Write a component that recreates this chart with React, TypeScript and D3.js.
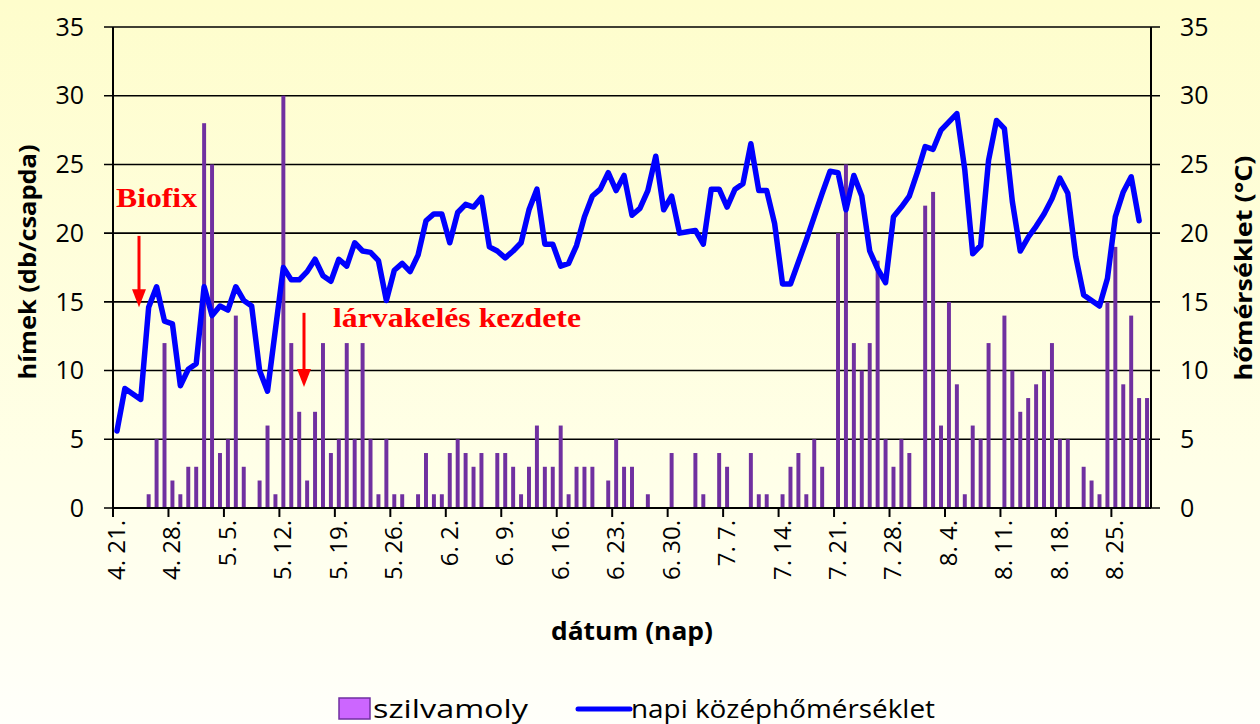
import React from "react"
import * as d3 from "d3"

// napi fogás (db/csapda), 4.21. – 8.29.
const moths = [
  0, 0, 0, 0, 1, 5, 12, 2, 1, 3, 3, 28, 25, 4, 5, 14, 3, 0, 2, 6, 1, 30, 12, 7, 2, 7, 12, 4, 5, 12,
  5, 12, 5, 1, 5, 1, 1, 0, 1, 4, 1, 1, 4, 5, 4, 3, 4, 0, 4, 4, 3, 1, 3, 6, 3, 3, 6, 1, 3, 3,
  3, 0, 2, 5, 3, 3, 0, 1, 0, 0, 4, 0, 0, 4, 1, 0, 4, 3, 0, 0, 4, 1, 1, 0, 1, 3, 4, 1, 5, 3,
  0, 20, 25, 12, 10, 12, 18, 5, 3, 5, 4, 0, 22, 23, 6, 15, 9, 1, 6, 5, 12, 0, 14, 10, 7, 8, 9, 10, 12, 5,
  5, 0, 3, 2, 1, 15, 19, 9, 14, 8, 8,
]

// napi középhőmérséklet (°C)
const temps: (number | null)[] = [
  5.6, 8.7, 8.3, 7.9, 14.6, 16.1, 13.6, 13.4, 8.9, 10.1, 10.5, 16.1, 14.0, 14.7, 14.4, 16.1, 15.1, 14.7, 10.0, 8.5,
  13.0, 17.5, 16.6, 16.6, 17.2, 18.1, 16.9, 16.5, 18.1, 17.6, 19.3, 18.7, 18.6, 18.0, 15.1, 17.3, 17.8, 17.2, 18.4, 20.9,
  21.4, 21.4, 19.3, 21.5, 22.1, 21.9, 22.6, 19.0, 18.7, 18.2, 18.7, 19.3, 21.7, 23.2, 19.2, 19.2, 17.6, 17.8, 19.1, 21.2,
  22.7, 23.2, 24.4, 23.1, 24.2, 21.3, 21.8, 23.1, 25.6, 21.7, 22.7, 20.0, 20.1, 20.2, 19.2, 23.2, 23.2, 21.9, 23.2, 23.6,
  26.5, 23.1, 23.1, 20.7, 16.3, 16.3, 17.9, 19.5, 21.2, 22.9, 24.5, 24.4, 21.7, 24.2, 22.7, 18.7, 17.4, 16.4, 21.2, 21.9,
  22.7, 24.4, 26.3, 26.1, 27.5, 28.1, 28.7, 24.6, 18.5, 19.1, 25.3, 28.2, 27.6, 22.3, 18.7, 19.7, 20.5, 21.4, 22.5, 24.0,
  22.9, 18.3, 15.5, 15.1, 14.7, 16.7, 21.2, 23.0, 24.1, 20.9, null,
]

const tickLabels = [
  "4. 21.", "4. 28.", "5. 5.", "5. 12.", "5. 19.", "5. 26.", "6. 2.", "6. 9.", "6. 16.", "6. 23.",
  "6. 30.", "7. 7.", "7. 14.", "7. 21.", "7. 28.", "8. 4.", "8. 11.", "8. 18.", "8. 25.",
]
const yTicks = [0, 5, 10, 15, 20, 25, 30, 35]

const W = 1260
const H = 724
const m = { left: 113, right: 1151, top: 27, bottom: 508 }
const font = "'Open Sans', 'Noto Sans', sans-serif"
const serif = "'Liberation Serif', 'DejaVu Serif', serif"

export default function App() {
  const days = moths.map((_, i) => i)
  const x = d3.scaleBand<number>().domain(days).range([m.left, m.right]).padding(0)
  const step = x.step()
  const cx = (i: number) => (x(i) as number) + step / 2
  const yL = d3.scaleLinear().domain([0, 35]).range([m.bottom, m.top])
  const yR = d3.scaleLinear().domain([0, 35]).range([m.bottom, m.top])
  const barW = step * 0.5

  const line = d3
    .line<number | null>()
    .defined((d) => d != null)
    .x((_, i) => cx(i))
    .y((d) => yR(d as number))
    .curve(d3.curveLinear)

  const arrow = (xp: number, v0: number, v1: number) => {
    const y0 = yL(v0)
    const y1 = yL(v1)
    return (
      <g>
        <line x1={xp} x2={xp} y1={y0} y2={y1 - 16} stroke="#FF0000" strokeWidth={3} />
        <path d={`M${xp - 7},${y1 - 18} L${xp + 7},${y1 - 18} L${xp},${y1} Z`} fill="#FF0000" />
      </g>
    )
  }

  return (
    <svg width={W} height={H} style={{ position: "absolute", left: 0, top: 0 }}>
      <defs>
        <linearGradient id="bg" x1="0" y1="0" x2="0" y2="1">
          <stop offset="0" stopColor="#FEFDCC" />
          <stop offset="0.65" stopColor="#FFFFE8" />
          <stop offset="1" stopColor="#FFFFFA" />
        </linearGradient>
      </defs>
      <rect x={0} y={0} width={W} height={H} fill="url(#bg)" />

      {/* gridlines + ticks */}
      {yTicks.map((t) => (
        <g key={t}>
          <line x1={m.left - 9} x2={m.right + 9} y1={yL(t)} y2={yL(t)} stroke="#000" strokeWidth={1.6} />
          <text x={84} y={yL(t)} dy="0.35em" textAnchor="end" fontFamily={font} fontSize={25} fill="#000">
            {t}
          </text>
          <text x={1180} y={yR(t)} dy="0.35em" textAnchor="start" fontFamily={font} fontSize={25} fill="#000">
            {t}
          </text>
        </g>
      ))}
      <line x1={m.left} x2={m.left} y1={m.top} y2={m.bottom} stroke="#000" strokeWidth={2} />
      <line x1={m.right} x2={m.right} y1={m.top} y2={m.bottom} stroke="#000" strokeWidth={2} />

      {/* bars */}
      {moths.map((v, i) =>
        v > 0 ? (
          <rect key={i} x={cx(i) - barW / 2} y={yL(v)} width={barW} height={yL(0) - yL(v)} fill="#7030A0" />
        ) : null
      )}

      {/* x axis */}
      <line x1={m.left} x2={m.right} y1={m.bottom} y2={m.bottom} stroke="#000" strokeWidth={2} />
      {tickLabels.map((lab, k) => {
        const i = k * 7
        const tx = x(i) as number
        return (
          <g key={lab}>
            <line x1={tx} x2={tx} y1={m.bottom} y2={m.bottom + 9} stroke="#000" strokeWidth={2} />
            <text
              transform={`translate(${cx(i) + 8},${m.bottom + 12}) rotate(-90)`}
              textAnchor="end"
              fontFamily={font}
              fontSize={24}
              fill="#000"
            >
              {lab}
            </text>
          </g>
        )
      })}

      {/* temperature line */}
      <path d={line(temps) || ""} fill="none" stroke="#0000FF" strokeWidth={5.5} strokeLinejoin="round" strokeLinecap="round" />

      {/* annotations */}
      <text x={116} y={207} fontFamily={serif} fontWeight="bold" fontSize={28} fill="#FF0000" textLength={81} lengthAdjust="spacingAndGlyphs">
        Biofix
      </text>
      {arrow(139, 19.8, 14.6)}
      <text x={333} y={327} fontFamily={serif} fontWeight="bold" fontSize={27} fill="#FF0000" textLength={248} lengthAdjust="spacingAndGlyphs">
        lárvakelés kezdete
      </text>
      {arrow(304, 14.2, 8.8)}

      {/* axis titles */}
      <text
        transform="translate(36,262) rotate(-90)"
        textAnchor="middle"
        fontFamily={font}
        fontWeight="bold"
        fontSize={24}
        fill="#000"
        textLength={235}
        lengthAdjust="spacingAndGlyphs"
      >
        hímek (db/csapda)
      </text>
      <text
        transform="translate(1252,268) rotate(-90)"
        textAnchor="middle"
        fontFamily={font}
        fontWeight="bold"
        fontSize={24}
        fill="#000"
        textLength={225}
        lengthAdjust="spacingAndGlyphs"
      >
        hőmérséklet (°C)
      </text>
      <text x={632} y={640} textAnchor="middle" fontFamily={font} fontWeight="bold" fontSize={25} fill="#000" textLength={162} lengthAdjust="spacingAndGlyphs">
        dátum (nap)
      </text>

      {/* legend */}
      <rect x={339} y={698} width={31} height={21} fill="#CC66FF" stroke="#7030A0" strokeWidth={1.5} />
      <text x={373} y={718} fontFamily={font} fontSize={25} fill="#000" textLength={155} lengthAdjust="spacingAndGlyphs">
        szilvamoly
      </text>
      <line x1={578} x2={630} y1={709} y2={709} stroke="#0000FF" strokeWidth={5} strokeLinecap="round" />
      <text x={631} y={718} fontFamily={font} fontSize={25} fill="#000" textLength={304} lengthAdjust="spacingAndGlyphs">
        napi középhőmérséklet
      </text>
    </svg>
  )
}
